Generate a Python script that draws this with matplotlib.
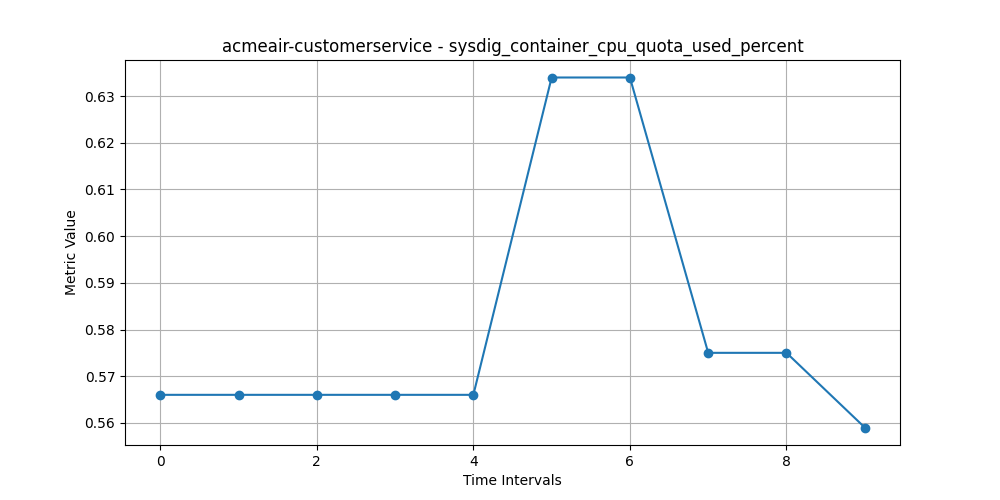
import matplotlib
matplotlib.use('Agg')
from matplotlib import pyplot as plt

intervals = [0, 1, 2, 3, 4, 5, 6, 7, 8, 9]
values = [0.566, 0.566, 0.566, 0.566, 0.566, 0.634, 0.634, 0.575, 0.575, 0.559]

plt.figure(figsize=(10, 5))
plt.plot(intervals, values, marker='o')
plt.title('acmeair-customerservice - sysdig_container_cpu_quota_used_percent')
plt.xlabel('Time Intervals')
plt.ylabel('Metric Value')
plt.grid(True)
plt.savefig('out.png', dpi=100)
